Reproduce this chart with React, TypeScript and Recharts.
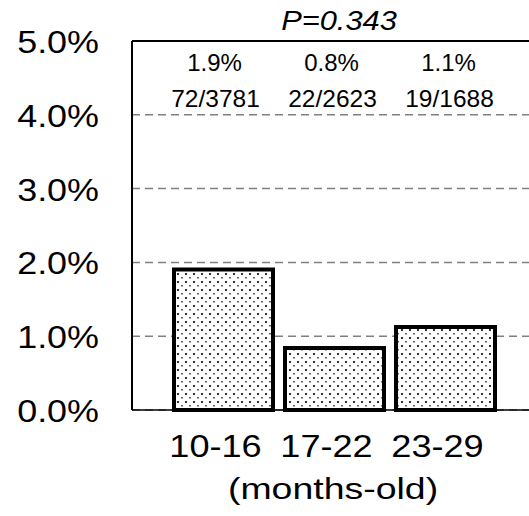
import React from "react";
import {
  BarChart,
  Bar,
  XAxis,
  YAxis,
  CartesianGrid,
  ReferenceLine,
  LabelList,
  Label,
} from "recharts";

const ageGroups = ["10-16", "17-22", "23-29"];
const cases = [72, 22, 19];
const totals = [3781, 2623, 1688];
const yTicks = [0, 1, 2, 3, 4, 5];
const pValue = "P=0.343";
const xTitle = "(months-old)";

const FONT = '"Liberation Sans", Arial, sans-serif';
const PLOT_TOP = 41;

const data = ageGroups.map((group, i) => ({
  group,
  rate: (cases[i] / totals[i]) * 100,
  count: `${cases[i]}/${totals[i]}`,
}));

// text stretched horizontally around its anchor point
const WideText = ({ x, y, sx = 1, anchor = "middle", size, italic, children }: any) => (
  <text
    transform={`translate(${x},${y}) scale(${sx},1)`}
    textAnchor={anchor}
    fontSize={size}
    fontFamily={FONT}
    fontStyle={italic ? "italic" : "normal"}
    fill="#000"
  >
    {children}
  </text>
);

const YTick = (props: any) => {
  const { x, y, payload } = props;
  return (
    <WideText x={x} y={y + 12} sx={1.14} anchor="end" size={31.5}>
      {`${Number(payload.value).toFixed(1)}%`}
    </WideText>
  );
};

const XTick = (props: any) => {
  const { x, y, payload } = props;
  return (
    <WideText x={x - 8} y={y + 27} sx={1.13} size={32}>
      {payload.value}
    </WideText>
  );
};

// rate and n/N printed near the top of the plot, above each bar
const TopLabel = (props: any) => {
  const { x, width, index } = props;
  const d = data[index];
  const cx = x + width / 2 + (index - 1) * 6;
  return (
    <g>
      <WideText x={cx - 3} y={PLOT_TOP + 30} size={24}>
        {`${d.rate.toFixed(1)}%`}
      </WideText>
      <WideText x={cx - 2} y={PLOT_TOP + 66} size={24.5}>
        {d.count}
      </WideText>
    </g>
  );
};

const XTitle = (props: any) => {
  const { viewBox } = props;
  return (
    <WideText x={viewBox.x + 201} y={499} sx={1.27} size={29.5}>
      {xTitle}
    </WideText>
  );
};

const PTitle = (props: any) => {
  const { viewBox } = props;
  return (
    <WideText x={viewBox.x + 207} y={PLOT_TOP - 11} sx={1.1} size={28} italic>
      {pValue}
    </WideText>
  );
};

export default function App() {
  return (
    <div
      style={{
        position: "absolute",
        left: 0,
        top: 0,
        width: 529,
        height: 516,
        overflow: "hidden",
        background: "#fff",
      }}
    >
      <BarChart
        width={560}
        height={516}
        data={data}
        margin={{ top: PLOT_TOP, right: 0, bottom: 0, left: 0 }}
        barSize={99}
      >
        <defs>
          <pattern id="dots" width="8" height="8" patternUnits="userSpaceOnUse">
            <rect width="8" height="8" fill="#fff" />
            <rect x="1" y="1" width="2" height="2" fill="#333" />
            <rect x="5" y="5" width="2" height="1.5" fill="#666" />
          </pattern>
        </defs>
        <CartesianGrid
          vertical={false}
          stroke="#808080"
          strokeWidth={1.5}
          strokeDasharray="8 5"
        />
        <XAxis
          dataKey="group"
          height={106}
          padding={{ left: 36, right: 59 }}
          axisLine={{ stroke: "#000", strokeWidth: 1.5 }}
          tickLine={false}
          tickMargin={14}
          tick={<XTick />}
        >
          <Label content={<XTitle />} />
        </XAxis>
        <YAxis
          width={132}
          domain={[0, 5]}
          ticks={yTicks}
          interval={0}
          axisLine={{ stroke: "#000", strokeWidth: 2 }}
          tickLine={false}
          tickMargin={27}
          tick={<YTick />}
        />
        <ReferenceLine y={5} stroke="#000" strokeWidth={2}>
          <Label content={<PTitle />} />
        </ReferenceLine>
        <Bar
          dataKey="rate"
          fill="url(#dots)"
          stroke="#000"
          strokeWidth={4}
          isAnimationActive={false}
        >
          <LabelList dataKey="rate" content={TopLabel} />
        </Bar>
      </BarChart>
    </div>
  );
}
